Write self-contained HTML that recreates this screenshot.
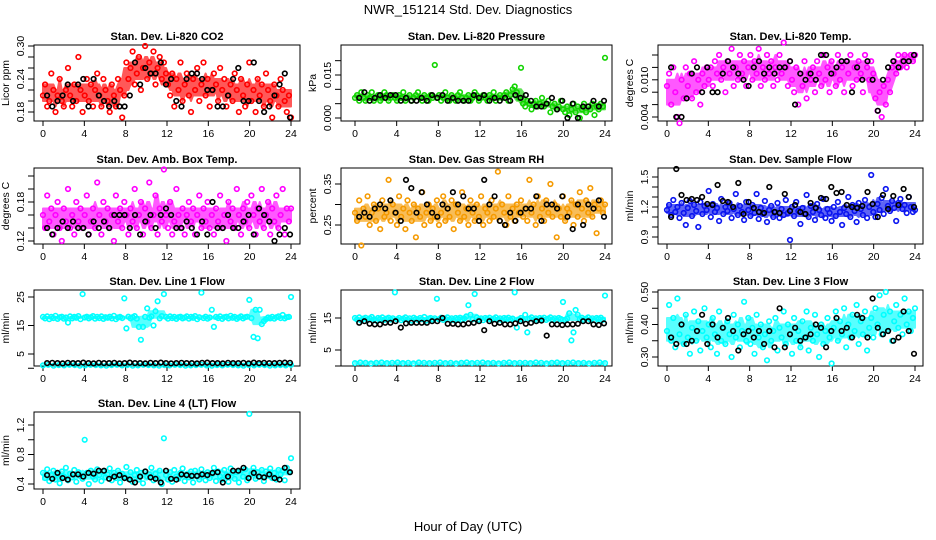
<!DOCTYPE html>
<html><head><meta charset="utf-8">
<style>
body{margin:0;background:#fff;}
svg{display:block;font-family:"Liberation Sans",sans-serif;}
</style></head>
<body>
<svg id="chart" width="936" height="540" viewBox="0 0 936 540">
<rect width="936" height="540" fill="#fff"/>
<text x="468" y="14" text-anchor="middle" font-size="13">NWR_151214  Std. Dev. Diagnostics</text>
<text x="468" y="531" text-anchor="middle" font-size="13">Hour of Day (UTC)</text>
</svg>
<script>
const hourTicks = [0,4,8,12,16,20,24];

const co2Color = [0.21,0.23,0.19,0.20,0.25,0.22,0.18,0.21,0.24,0.20,0.19,0.22,0.26,0.21,0.19,0.23,0.20,0.28,0.22,0.18,0.21,0.24,0.20,0.23,0.19,0.22,0.25,0.21,0.19,0.24,0.22,0.20,0.18,0.23,0.21,0.19,0.24,0.22,0.17,0.21,
0.27,0.24,0.26,0.29,0.23,0.25,0.28,0.22,0.26,0.30,0.24,0.27,0.25,0.29,0.23,0.26,0.28,0.24,0.27,0.25,
0.23,0.21,0.25,0.19,0.24,0.22,0.27,0.20,0.23,0.25,0.21,0.18,0.24,0.22,0.26,0.20,0.23,0.27,0.21,0.24,0.19,0.22,0.25,0.23,0.20,0.26,0.22,0.24,0.19,0.21,0.23,0.20,0.25,0.22,0.18,0.24,0.21,0.19,0.23,0.27,0.20,0.22,0.18,0.24,0.21,0.23,0.19,0.25,0.22,0.20,0.17,0.23,0.21,0.19,0.24,0.22,0.20,0.18,0.21,0.17];
const co2Black = [0.21,0.19,0.20,0.21,0.23,0.20,0.23,0.24,0.19,0.24,0.21,0.20,0.19,0.20,0.19,0.19,0.21,0.27,0.23,0.26,0.25,0.25,0.27,0.23,0.24,0.20,0.19,0.24,0.25,0.25,0.24,0.22,0.22,0.19,0.19,0.21,0.24,0.26,0.20,0.20,0.27,0.20,0.18,0.19,0.21,0.23,0.25,0.17];

const presColor = [.007,.008,.006,.009,.007,.006,.008,.007,.009,.006,.007,.008,.006,.007,.009,.008,.006,.007,.008,.007,.006,.008,.007,.009,.006,.007,.008,.006,.007,.008,.009,.007,.006,.008,.007,.006,.008,.007,.0185,.007,
.008,.006,.007,.009,.007,.006,.008,.007,.006,.008,.009,.007,.006,.007,.008,.006,.007,.009,.008,.006,.007,.008,.007,.006,.008,.007,.009,.006,.007,.008,.007,.008,.009,.006,.008,.010,.011,.009,.007,.0175,
.005,.004,.006,.005,.003,.005,.006,.004,.005,.007,.004,.005,.006,.002,.004,.005,.003,.004,.006,.003,.002,.004,.001,.003,.005,.002,.004,.000,.003,.005,.002,.004,.003,.005,.001,.004,.003,.005,.004,.021];
const presBlack = [.007,.009,.006,.007,.008,.007,.008,.008,.006,.007,.006,.006,.007,.006,.008,.007,.008,.006,.007,.006,.006,.006,.008,.007,.008,.006,.007,.006,.007,.006,.008,.007,.008,.006,.004,.004,.005,.007,.003,.006,.000,.005,.000,.004,.004,.006,.004,.006];

const tempColor = [.009,.011,.006,.012,.008,.004,.003,.010,.007,.012,.009,.011,.007,.013,.008,.010,.006,.011,.009,.012,
.010,.012,.009,.013,.011,.014,.010,.012,.008,.013,.011,.015,.009,.012,.010,.014,.011,.013,.009,.012,.014,.010,.013,.011,.015,.009,.012,.010,.014,.011,.013,.009,.012,.010,.014,.011,.016,.012,.009,.013,
.010,.008,.012,.006,.011,.009,.013,.007,.011,.010,.012,.008,.013,.011,.009,.014,.010,.012,.008,.013,.011,.009,.014,.010,.012,.008,.013,.011,.014,.009,.012,.010,.013,.011,.008,.014,.012,.010,.013,.011,
.007,.005,.008,.004,.009,.006,.010,.008,.012,.013,.011,.014,.012,.013,.014,.012,.013,.014,.013,.014];
const tempBlack = [.012,.004,.004,.007,.011,.012,.008,.012,.008,.008,.011,.013,.012,.011,.010,.009,.012,.013,.011,.012,.011,.012,.012,.013,.006,.011,.010,.011,.010,.014,.014,.011,.012,.013,.013,.008,.012,.010,.013,.010,.005,.010,.012,.013,.012,.013,.013,.014];

const ambColor = [.16,.14,.19,.15,.17,.13,.16,.18,.14,.12,.17,.15,.20,.14,.16,.13,.18,.15,.17,.14,.16,.19,.13,.15,.17,.14,.21,.16,.13,.18,.15,.17,.14,.16,.12,.19,.15,.17,.14,.18,
.16,.13,.17,.15,.20,.14,.16,.18,.13,.17,.15,.21,.14,.16,.19,.13,.17,.15,.23,.16,.14,.18,.13,.15,.20,.16,.14,.17,.13,.16,.18,.15,.17,.13,.16,.19,.14,.17,.15,.18,
.14,.16,.13,.17,.15,.19,.14,.16,.12,.18,.15,.17,.14,.20,.16,.13,.17,.15,.18,.14,.19,.16,.13,.17,.15,.20,.14,.16,.18,.13,.17,.15,.19,.14,.16,.20,.13,.17,.15,.17];
const ambBlack = [.14,.13,.14,.15,.14,.15,.14,.14,.13,.15,.14,.15,.14,.16,.16,.16,.14,.16,.13,.15,.16,.14,.16,.17,.16,.14,.14,.15,.14,.13,.15,.13,.18,.14,.14,.16,.14,.14,.15,.16,.13,.17,.16,.15,.12,.13,.14,.13];

const rhColor = [.28,.26,.31,.20,.29,.27,.32,.25,.28,.30,.26,.29,.24,.31,.27,.28,.36,.26,.30,.28,.25,.32,.27,.29,.24,.31,.28,.26,.30,.22,.29,.27,.33,.25,.28,.30,.26,.29,.27,.31,
.25,.28,.32,.26,.29,.27,.31,.24,.30,.28,.26,.33,.27,.29,.25,.31,.28,.26,.30,.27,.32,.25,.29,.28,.26,.31,.27,.29,.38,.26,.30,.28,.25,.32,.27,.29,.26,.30,.28,.31,
.27,.29,.26,.36,.28,.30,.25,.32,.27,.29,.26,.31,.28,.35,.27,.30,.22,.29,.27,.32,.26,.29,.28,.31,.25,.30,.27,.33,.29,.26,.31,.28,.34,.27,.30,.23,.29,.31,.28,.30];
const rhBlack = [.27,.28,.27,.29,.30,.29,.31,.28,.26,.36,.34,.28,.33,.30,.28,.27,.30,.29,.33,.30,.32,.29,.29,.26,.36,.30,.32,.26,.25,.28,.26,.28,.29,.29,.32,.26,.30,.30,.29,.32,.27,.24,.30,.25,.30,.29,.31,.27];

const sampColor = [1.17,1.22,1.12,1.27,1.15,1.20,1.09,1.24,1.14,1.02,1.19,1.26,1.11,1.22,1.16,1.00,1.25,1.13,1.21,1.17,1.36,1.10,1.23,1.15,1.19,1.06,1.28,1.13,1.20,1.16,1.24,1.09,1.18,1.33,1.12,1.21,1.15,1.07,1.25,1.17,
1.11,1.22,1.14,1.33,1.08,1.19,1.13,1.26,1.05,1.17,1.21,1.10,1.15,1.24,1.09,1.18,1.12,1.27,1.14,0.87,1.20,1.11,1.25,1.16,1.03,1.19,1.13,1.32,1.10,1.21,1.15,1.07,1.23,1.17,1.12,1.28,1.09,1.18,1.14,1.06,
1.20,1.11,1.25,1.15,1.02,1.19,1.13,1.30,1.10,1.22,1.16,1.05,1.24,1.18,1.12,1.27,1.09,1.20,1.52,1.15,1.10,1.23,1.17,1.29,1.13,1.38,1.21,1.16,1.26,1.19,1.06,1.24,1.28,1.18,1.22,1.14,1.30,1.20,1.15,1.17];
const sampBlack = [1.10,1.58,1.32,1.27,1.28,1.27,1.30,1.23,1.22,1.42,1.26,1.25,1.20,1.44,1.13,1.25,1.19,1.15,1.14,1.40,1.15,1.14,1.33,1.16,1.22,1.15,1.13,1.24,1.19,1.29,1.28,1.40,1.34,1.35,1.22,1.20,1.19,1.21,1.35,1.23,1.10,1.32,1.18,1.31,1.22,1.38,1.30,1.20];

const l1Color = [18,17.5,18.2,17.2,18,17.6,18.4,17.3,17.9,18.1,17.4,17.8,16,18.2,17.5,18,17.7,18.3,17.2,26,17.8,18.1,17.5,17.9,18.3,17.4,18,17.6,18.2,17.3,17.9,17.7,18.1,17.5,18.4,17.2,17.8,18,17.6,24.5,
14,18.1,17.5,17.9,18.3,17.4,14.5,10,14.5,18,21,17.7,18.2,15,20,23.5,17.5,18.3,26,18,17.4,18.2,17.6,18,17.3,17.9,18.1,17.5,17.8,18.2,17.4,18,17.7,18.3,17.2,17.9,26.5,17.6,18.1,17.4,
17.8,20.5,14.5,18,17.6,18.2,17.3,17.9,18.1,17.5,18.4,17.7,18,17.3,17.8,18.2,17.5,17.9,18.1,24,17.6,11,20.5,10.5,20.5,15.5,16.5,17.2,17.8,17.5,18,17.4,17.9,18.2,17.6,18.7,17.5,17.9,18,25];
const l1Low = [1.0,1.2,0.9,1.1,1.0,1.2,1.1,0.9,1.0,1.2,1.1,1.0,0.9,1.1,1.2,1.0,1.1,0.9,1.0,1.2,1.1,1.0,0.9,1.1,1.0,1.2,1.1,0.9,1.0,1.1,1.2,1.0,0.9,1.1,1.0,1.2,1.1,1.0,0.9,1.1,1.0,1.2,1.1,0.9,1.0,1.1,1.0,1.2];
const l1Black = [1.8,1.9,1.8,1.7,1.9,1.8,1.8,2.0,1.8,1.7,1.9,1.8,1.8,1.9,1.7,1.8,2.0,1.8,1.8,1.7,1.9,1.8,2.0,1.8,1.7,1.8,1.9,1.8,1.8,1.7,1.9,2.0,1.8,1.8,1.7,1.9,1.8,1.8,1.9,1.7,2.0,1.8,1.9,1.8,1.8,1.9,2.0,1.9];

const l2Color = [15,14.5,15.2,14.2,14.8,15.1,14.4,14.9,15.3,14.6,14.2,15,14.7,15.2,14.4,14.8,15.1,14.5,14.9,23,
14.6,15,14.3,14.8,15.2,14.5,14.9,14.2,15.1,14.7,14.4,15,14.6,15.3,14.2,14.8,15,14.5,14.9,21,
14.6,15.1,14.4,14.8,15.2,14.5,14.9,14.3,15,14.7,15.1,14.4,14.8,15.5,19,16,14.6,22.5,15.2,14.5,
14.9,14.3,15,14.7,15.1,14.4,14.8,15.2,14.5,14.9,14.3,15,14.7,15.1,14.4,14.8,23,12,14.6,15,
14.3,16,10.5,14.8,15.2,14.5,14.9,14.3,15,14.7,15.1,14.4,14.8,15.2,14.5,14.9,14.3,15,14.7,20,
14.4,14.8,16.5,8,10.5,17.5,16,14.6,15.1,14.4,14.8,15.2,14.5,14.9,14.3,15,14.7,15.1,14.4,22];
const l2Low = [0.9,1.1,1.0,0.8,1.0,1.1,0.9,1.0,1.1,0.9,1.0,0.8,1.1,1.0,0.9,1.0,1.1,0.9,1.0,0.8,1.0,1.1,0.9,1.0,1.1,0.9,1.0,0.8,1.0,1.1,0.9,1.0,1.0,0.9,1.1,1.0,0.8,1.0,1.1,0.9,1.0,1.1,0.9,1.0,0.8,1.0,1.1,0.9];
const l2Black = [13.5,14,13.2,13,13,13.5,13.5,14,12,13.3,13.5,13.5,13.5,13.5,14,14,15,13.2,13.2,13,13,13.3,13.5,14,11.2,14,13.2,13.5,13,13,13.3,14,13.2,13.5,14,14.2,9.5,13,13,12.8,13,13,13.2,14,14,13,12.8,13.3];

const l3Color = [.38,.46,.35,.42,.33,.48,.37,.40,.34,.43,.36,.31,.39,.44,.35,.41,.32,.38,.45,.36,
.40,.33,.42,.37,.31,.44,.35,.39,.34,.41,.37,.30,.43,.36,.40,.33,.38,.47,.35,.42,
.34,.39,.31,.43,.36,.40,.33,.37,.29,.41,.35,.38,.42,.32,.39,.36,.44,.34,.40,.37,
.31,.42,.35,.38,.33,.41,.36,.44,.32,.39,.35,.43,.37,.30,.40,.34,.38,.42,.36,.28,
.39,.44,.35,.41,.37,.45,.33,.40,.36,.43,.38,.46,.34,.41,.37,.44,.32,.39,.42,.36,
.45,.40,.49,.37,.43,.50,.38,.44,.35,.41,.46,.39,.43,.37,.48,.40,.44,.38,.42,.45];
const l3Black = [.36,.34,.40,.34,.35,.38,.43,.34,.40,.36,.39,.42,.38,.32,.37,.38,.36,.38,.34,.38,.33,.45,.33,.37,.39,.35,.36,.37,.40,.39,.33,.38,.42,.38,.39,.36,.43,.42,.36,.48,.39,.37,.38,.35,.36,.44,.38,.31];

const l4Color = [.55,.48,.60,.44,.52,.58,.46,.53,.41,.57,.50,.62,.45,.54,.49,.59,.43,.56,.51,.47,
1.0,.55,.40,.58,.50,.46,.60,.52,.44,.57,.49,.53,.61,.45,.55,.48,.58,.42,.54,.50,
.63,.47,.56,.43,.52,.59,.46,.55,.41,.57,.50,.53,.62,.45,.54,.48,.58,.40,1.02,.52,
.46,.56,.43,.59,.50,.47,.55,.61,.44,.53,.49,.57,.42,.58,.51,.46,.60,.54,.45,.56,
.48,.53,.62,.44,.57,.50,.46,.59,.52,.43,.61,.55,.47,.56,.42,.58,.50,.60,.45,1.35,
.54,.62,.47,.56,.50,.59,.44,.57,.52,.61,.48,.55,.46,.59,.53,.58,.45,.62,.56,.75];
const l4Black = [.52,.47,.55,.48,.46,.53,.53,.50,.55,.54,.58,.58,.47,.50,.52,.48,.46,.42,.50,.57,.49,.47,.42,.58,.47,.46,.53,.52,.51,.51,.53,.52,.55,.56,.42,.50,.58,.58,.62,.48,.55,.50,.49,.53,.48,.46,.62,.56];

const co2Ticks=[.18,.20,.22,.24,.26,.28,.30], co2Labels=["0.18","0.24","0.30"];
const presTicks=[0,.005,.010,.015,.020], presLabels=["0.000","0.015"];
const tempTicks=[.004,.006,.008,.010,.012,.014], tempLabels=["0.004","0.010"];
const ambTicks=[.12,.14,.16,.18,.20,.22], ambLabels=["0.12","0.18"];
const rhTicks=[.25,.30,.35], rhLabels=["0.25","0.35"];
const sampTicks=[.9,1.0,1.1,1.2,1.3,1.4,1.5], sampLabels=["0.9","1.2","1.5"];
const l1Ticks=[0,5,15,25], l1Labels=["5","15","25"];
const l2Ticks=[0,5,15], l2Labels=["5","15"];
const l3Ticks=[.30,.35,.40,.45,.50], l3Labels=["0.30","0.40","0.50"];
const l4Ticks=[.4,.6,.8,1.0,1.2], l4Labels=["0.4","0.8","1.2"];

const NS="http://www.w3.org/2000/svg";
const svg=document.getElementById('chart');
const cols=[{L:34,R:300,x0:43,x1:291},{L:341,R:612,x0:355,x1:605},{L:658,R:923,x0:667,x1:915}];
const rows=[[45,121],[168,244],[290,366],[412,489]];
function mk(tag,attrs,parent){const e=document.createElementNS(NS,tag);for(const k in attrs)e.setAttribute(k,attrs[k]);(parent||svg).appendChild(e);return e;}
function linspace(a,b,n){const o=[];for(let i=0;i<n;i++)o.push(n>1?a+(b-a)*i/(n-1):a);return o;}
function quant(arr,i,w,q){let a=Math.max(0,i-w),b=Math.min(arr.length,i+w+1);if(a===0)b=Math.min(arr.length,2*w+1);if(b===arr.length)a=Math.max(0,arr.length-2*w-1);const s=arr.slice(a,b).sort((x,y)=>x-y);return s[Math.min(s.length-1,Math.max(0,Math.round((s.length-1)*q)))];}

function panel(p){
  const c=cols[p.col], r=rows[p.row];
  const g=mk('g',{});
  
  
  const xs=h=>c.x0+(c.x1-c.x0)*h/24;
  const ys=v=>p.p1+(v-p.v1)*(p.p2-p.p1)/(p.v2-p.v1);
  const t=mk('text',{x:(c.L+c.R)/2,y:r[0]-5,'text-anchor':'middle','font-size':'11','font-weight':'bold'},g);
  t.textContent=p.title;
  
  
  const box=mk('rect',{x:c.L,y:r[0],width:c.R-c.L,height:r[1]-r[0],fill:'none',stroke:'#000','stroke-width':'1'},g);
  
  
  hourTicks.forEach(h=>{
    mk('line',{x1:xs(h),x2:xs(h),y1:r[1],y2:r[1]+5,stroke:'#000'},g);
    const tl=mk('text',{x:xs(h),y:r[1]+16,'text-anchor':'middle','font-size':'10.5'},g);
    tl.textContent=h;
    
    
  });
  p.ticks.forEach(v=>{mk('line',{x1:c.L-6,x2:c.L,y1:ys(v),y2:ys(v),stroke:'#000'},g);});
  p.labels.forEach(s=>{
    const y=ys(parseFloat(s)), x=c.L-10;
    const tl=mk('text',{x:x,y:y,'text-anchor':'middle','font-size':'10.5',transform:`rotate(-90 ${x} ${y})`},g);
    tl.textContent=s;
    
    
  });
  const ax=c.L-25, ay=(r[0]+r[1])/2;
  const yt=mk('text',{x:ax,y:ay,'text-anchor':'middle','font-size':'10.5',transform:`rotate(-90 ${ax} ${ay})`},g);
  yt.textContent=p.ylab;
  
  
  p.series.forEach(s=>{
    const hx=linspace(s.h0,s.h1,s.data.length);
    if(s.band){
      const up=[],lo=[];
      s.data.forEach((v,i)=>{
        up.push(xs(hx[i]).toFixed(1)+','+ys(quant(s.data,i,4,0.8)).toFixed(1));
        lo.unshift(xs(hx[i]).toFixed(1)+','+ys(quant(s.data,i,4,0.2)).toFixed(1));
      });
      const bd=mk('polygon',{points:up.concat(lo).join(' '),fill:s.color,stroke:s.color,'stroke-width':'2','stroke-linejoin':'round',opacity:'0.65'},g);
      
      
    }
    s.data.forEach((v,i)=>{
      const pt=mk('circle',{cx:xs(hx[i]).toFixed(1),cy:ys(v).toFixed(1),r:2.3,fill:'none',stroke:s.color,'stroke-width':'1.6'},g);
      
      
    });
  });
}
const C=(d,color)=>({data:d,color:color,h0:0,h1:24,band:true});
const L=(d,color)=>({data:d,color:color,h0:0,h1:24,band:true});
const B=d=>({data:d,color:'#000',h0:0.4,h1:23.9,band:false});
panel({name:'co2',title:'Stan. Dev. Li-820 CO2',ylab:'Licor ppm',col:0,row:0,v1:.30,p1:46,v2:.18,p2:112,ticks:co2Ticks,labels:co2Labels,series:[C(co2Color,'#ff0000'),B(co2Black)]});
panel({name:'pressure',title:'Stan. Dev. Li-820 Pressure',ylab:'kPa',col:1,row:0,v1:0,p1:118,v2:.015,p2:75,ticks:presTicks,labels:presLabels,series:[C(presColor,'#11d400'),B(presBlack)]});
panel({name:'li820-temp',title:'Stan. Dev. Li-820 Temp.',ylab:'degrees C',col:2,row:0,v1:.004,p1:117,v2:.014,p2:55,ticks:tempTicks,labels:tempLabels,series:[C(tempColor,'#ff00ff'),B(tempBlack)]});
panel({name:'amb-box-temp',title:'Stan. Dev. Amb. Box Temp.',ylab:'degrees C',col:0,row:1,v1:.12,p1:241,v2:.18,p2:202,ticks:ambTicks,labels:ambLabels,series:[C(ambColor,'#ff00ff'),B(ambBlack)]});
panel({name:'gas-rh',title:'Stan. Dev. Gas Stream RH',ylab:'percent',col:1,row:1,v1:.25,p1:225,v2:.35,p2:184,ticks:rhTicks,labels:rhLabels,series:[C(rhColor,'#f59a00'),B(rhBlack)]});
panel({name:'sample-flow',title:'Stan. Dev. Sample Flow',ylab:'ml/min',col:2,row:1,v1:.9,p1:237,v2:1.5,p2:177,ticks:sampTicks,labels:sampLabels,series:[C(sampColor,'#0a14f0'),B(sampBlack)]});
panel({name:'line1-flow',title:'Stan. Dev. Line 1 Flow',ylab:'ml/min',col:0,row:2,v1:5,p1:354,v2:25,p2:297,ticks:l1Ticks,labels:l1Labels,series:[C(l1Color,'#00ffff'),L(l1Low,'#00ffff'),B(l1Black)]});
panel({name:'line2-flow',title:'Stan. Dev. Line 2 Flow',ylab:'ml/min',col:1,row:2,v1:5,p1:350,v2:15,p2:318,ticks:l2Ticks,labels:l2Labels,series:[C(l2Color,'#00ffff'),L(l2Low,'#00ffff'),B(l2Black)]});
panel({name:'line3-flow',title:'Stan. Dev. Line 3 Flow',ylab:'ml/min',col:2,row:2,v1:.30,p1:357,v2:.50,p2:292,ticks:l3Ticks,labels:l3Labels,series:[C(l3Color,'#00ffff'),B(l3Black)]});
panel({name:'line4-flow',title:'Stan. Dev. Line 4 (LT) Flow',ylab:'ml/min',col:0,row:3,v1:.4,p1:484,v2:1.2,p2:425,ticks:l4Ticks,labels:l4Labels,series:[C(l4Color,'#00ffff'),B(l4Black)]});
</script>
</body></html>
